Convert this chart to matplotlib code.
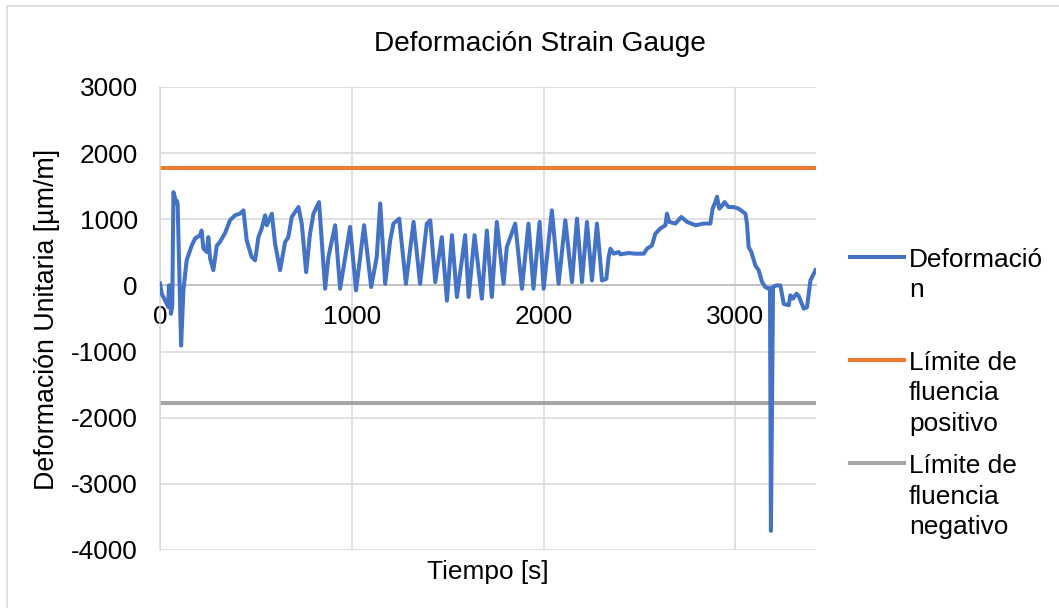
import matplotlib.pyplot as plt
from matplotlib.lines import Line2D
from matplotlib.patches import Rectangle

# Tiempo [s] y deformación unitaria [µm/m] del strain gauge
tiempo = [0, 9, 26, 43, 46, 50, 57, 64, 70, 78, 82, 88, 92, 110, 122, 139, 165, 183,
          209, 217, 226, 244, 252, 261, 278, 296, 313, 339, 365, 391, 417, 435, 452,
          478, 496, 513, 530, 548, 557, 583, 600, 626, 652, 669, 687, 722, 739, 762,
          782, 800, 829, 861, 878, 913, 939, 991, 1022, 1064, 1101, 1130, 1148, 1174,
          1200, 1217, 1247, 1282, 1322, 1356, 1391, 1409, 1435, 1469, 1496, 1522, 1548,
          1591, 1609, 1640, 1678, 1704, 1730, 1756, 1791, 1808, 1852, 1887, 1921, 1947,
          1979, 2000, 2043, 2078, 2113, 2148, 2174, 2200, 2226, 2252, 2278, 2304, 2327,
          2339, 2348, 2365, 2391, 2400, 2443, 2478, 2522, 2539, 2565, 2582, 2608, 2635,
          2643, 2655, 2687, 2718, 2748, 2791, 2834, 2869, 2881, 2895, 2904, 2916, 2929,
          2943, 2964, 2990, 3017, 3052, 3060, 3069, 3083, 3104, 3121, 3139, 3156, 3173,
          3180, 3185, 3196, 3213, 3234, 3252, 3278, 3286, 3300, 3318, 3330, 3356, 3373,
          3391, 3417]
deformacion = [30, -125, -225, -325, 0, 0, -430, -300, 1410, 1330, 1250, 1280, 1230, -910,
               -75, 380, 600, 710, 760, 830, 560, 505, 730, 410, 230, 600, 660, 790, 985,
               1060, 1085, 1135, 680, 430, 380, 730, 860, 1060, 910, 1085, 630, 230, 655,
               730, 1035, 1185, 935, 200, 780, 1085, 1260, -50, 430, 910, -50, 885, -75,
               910, -25, 430, 1240, 25, 680, 935, 1010, 25, 960, 25, 935, 985, 50, 730,
               -230, 760, -175, 760, -175, 760, -200, 830, -175, 960, 25, 580, 935, -50,
               935, -50, 960, -50, 1135, 25, 985, 50, 1010, 50, 960, 75, 935, 75, 100,
               430, 555, 480, 505, 470, 490, 480, 480, 555, 605, 780, 860, 910, 1085, 960,
               935, 1035, 960, 910, 935, 935, 1160, 1260, 1340, 1160, 1200, 1260, 1185,
               1185, 1160, 1085, 935, 580, 505, 300, 230, 50, -25, -50, -40, -3710, -25,
               0, 0, -280, -300, -150, -200, -125, -160, -350, -330, 75, 230]

limite_fluencia = 1775
x_max = 3420
y_ticks = [-4000, -3000, -2000, -1000, 0, 1000, 2000, 3000]
x_ticks = [0, 1000, 2000, 3000]

azul = '#4472C4'
naranja = '#ED7D31'
gris = '#A5A5A5'
rejilla = '#D9D9D9'

plt.rcParams['font.family'] = ['Liberation Sans', 'DejaVu Sans']
plt.rcParams['axes.unicode_minus'] = False
fs = 18.9

fig = plt.figure(figsize=(10.59, 6.08), dpi=100)
ax = fig.add_axes([160 / 1059, 1 - 550 / 608, (816 - 160) / 1059, (550 - 87) / 608])

ax.plot(tiempo, deformacion, color=azul, lw=2.9, solid_joinstyle='round', zorder=3)
ax.axhline(limite_fluencia, color=naranja, lw=2.9, zorder=2)
ax.axhline(-limite_fluencia, color=gris, lw=2.9, zorder=2)

ax.set_xlim(0, x_max)
ax.set_ylim(-4000, 3000)
ax.set_xticks(x_ticks)
ax.set_yticks(y_ticks)
ax.grid(True, color=rejilla, lw=1.1, zorder=0)
ax.set_axisbelow(True)

for s in ['top', 'right']:
    ax.spines[s].set_visible(False)
ax.spines['left'].set_color(rejilla)
ax.spines['left'].set_linewidth(1.1)
ax.spines['bottom'].set_position(('data', 0))
ax.spines['bottom'].set_color('#BFBFBF')
ax.spines['bottom'].set_linewidth(1.3)

ax.tick_params(axis='y', length=0, pad=16, labelsize=fs)
ax.tick_params(axis='x', length=0, pad=14, labelsize=fs)

fig.text(540 / 1059, 1 - 44 / 608, 'Deformación Strain Gauge', ha='center', va='center',
         fontsize=20.2)
fig.text(488 / 1059, 1 - 572 / 608, 'Tiempo [s]', ha='center', va='center', fontsize=fs)
fig.text(47 / 1059, 1 - 319 / 608, 'Deformación Unitaria [µm/m]', ha='center',
         va='center', rotation=90, fontsize=19.3)

# leyenda dibujada a mano: línea + texto en varias líneas
entradas = [
    (azul, 257, ['Deformació', 'n']),
    (naranja, 360, ['Límite de', 'fluencia', 'positivo']),
    (gris, 463, ['Límite de', 'fluencia', 'negativo']),
]
for color, y_px, lineas in entradas:
    fig.add_artist(Line2D([850 / 1059, 904 / 1059], [1 - y_px / 608] * 2,
                          color=color, lw=2.9))
    for i, txt in enumerate(lineas):
        base = y_px + 10 + i * 30.5
        fig.text(909 / 1059, 1 - base / 608, txt, ha='left', va='baseline', fontsize=fs)

# borde del área del gráfico
fig.add_artist(Rectangle((7 / 1059, -0.05), 1.1, 1 - 6 / 608 + 0.05,
                         transform=fig.transFigure, fill=False, ec=rejilla, lw=1.2))

fig.savefig('out.png', dpi=100)
